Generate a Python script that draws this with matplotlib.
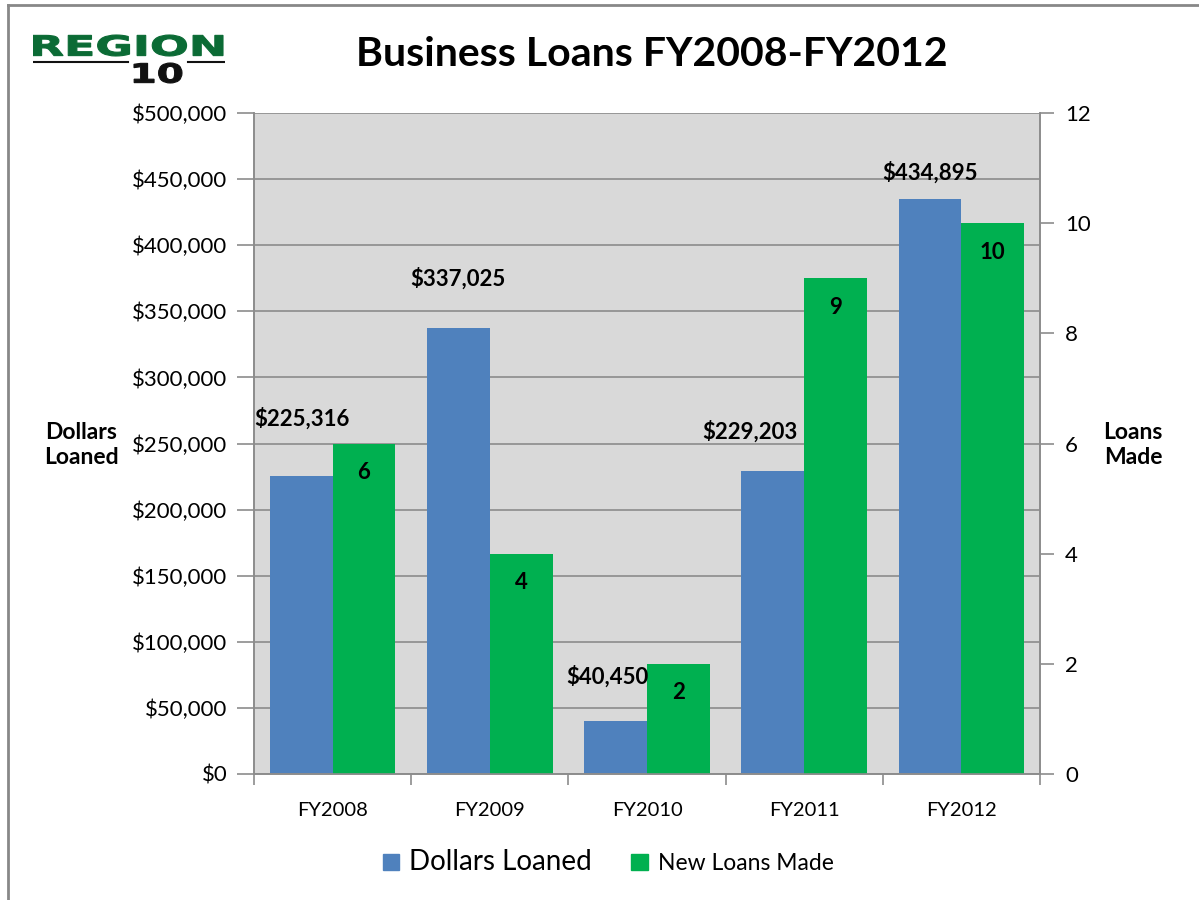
import matplotlib.pyplot as plt
from matplotlib.patches import Patch, PathPatch
from matplotlib.path import Path
from matplotlib.textpath import TextPath
from matplotlib.font_manager import FontProperties
from matplotlib.ticker import FuncFormatter, FixedLocator

years = ["FY2008", "FY2009", "FY2010", "FY2011", "FY2012"]
dollars = [225316, 337025, 40450, 229203, 434895]
loans = [6, 4, 2, 9, 10]

# label nudges (pixels) so the dollar labels sit like the original
lab_dx = [1, 0, -8, -23, 0]
lab_dy = [58, 50, 44, 39, 27]

plt.rcParams['font.family'] = ['Lato', 'DejaVu Sans']

blue = "#4f81bd"
green = "#00b050"
grid_c = "#8c8c8c"

fig = plt.figure(figsize=(11.99, 9), dpi=100)
ax = fig.add_axes([254/1199, 1-774/900, (1040-254)/1199, (774-113)/900])
ax2 = ax.twinx()

x = list(range(len(years)))
ax.bar([i - 0.2 for i in x], dollars, width=0.4, color=blue, zorder=2)
ax2.bar([i + 0.2 for i in x], loans, width=0.4, color=green, zorder=2)

ax.set_facecolor("#d9d9d9")
ax.set_xlim(-0.5, 4.5)
ax.set_ylim(0, 500000)
ax2.set_ylim(0, 12)
ax.set_yticks(range(0, 500001, 50000))
ax2.set_yticks(range(0, 13, 2))
ax.yaxis.set_major_formatter(FuncFormatter(lambda v, p: "${:,.0f}".format(v)))
ax.grid(axis="y", color=grid_c, linewidth=1.2, zorder=1)
ax.set_axisbelow(True)

ax.set_xticks(x)
ax.set_xticklabels(years, fontsize=14.5)
ax.xaxis.set_minor_locator(FixedLocator([i - 0.5 for i in range(len(years) + 1)]))
ax.tick_params(axis="x", which="major", length=0, pad=20)
ax.tick_params(axis="x", which="minor", length=8, color=grid_c, width=1.2)
ax.tick_params(axis="y", length=12, color=grid_c, width=1.2, labelsize=16, pad=7)
ax2.tick_params(axis="y", length=10, color=grid_c, width=1.2, labelsize=16, pad=8)

for a in (ax, ax2):
    a.spines["top"].set_visible(False)
    for s in ("left", "right", "bottom"):
        a.spines[s].set_color(grid_c)
        a.spines[s].set_linewidth(1.2)

for i, v in enumerate(dollars):
    ax2.annotate("${:,}".format(v), xy=(i - 0.2, v / 500000 * 12), xytext=(lab_dx[i], lab_dy[i]),
                 textcoords="offset pixels", ha="center", va="center",
                 fontsize=16, fontweight="bold", zorder=5)
for i, v in enumerate(loans):
    ax2.annotate(str(v), xy=(i + 0.2, v), xytext=(0, -29), textcoords="offset pixels",
                 ha="center", va="center", fontsize=16, fontweight="bold", zorder=5)

fig.text(652/1199, 1-55/900, "Business Loans FY2008-FY2012", ha="center", va="center",
         fontsize=29.5, fontweight="bold")
fig.text(81/1199, 1-445/900, "Dollars\nLoaned", ha="center", va="center",
         fontsize=16.5, fontweight="bold", linespacing=1.25)
fig.text(1133/1199, 1-445/900, "Loans\nMade", ha="center", va="center",
         fontsize=16.5, fontweight="bold", linespacing=1.25)

handles = [Patch(color=blue), Patch(color=green)]
leg = fig.legend(handles, ["Dollars Loaned", "New Loans Made"], loc="center",
                 bbox_to_anchor=(608/1199, 1-862/900), ncol=2, frameon=False, prop={"size": 16},
                 handlelength=0.75, handleheight=0.75, handletextpad=0.45, columnspacing=1.75)
leg.get_texts()[0].set_fontsize(20)
leg.get_texts()[1].set_fontsize(16.5)


def squeeze_text(a, s, x0, y0, w, h, color):
    tp = TextPath((0, 0), s, size=10, prop=FontProperties(family="DejaVu Sans", weight="bold"))
    bb = tp.get_extents()
    v = tp.vertices.copy()
    v[:, 0] = (v[:, 0] - bb.x0) / bb.width * w + x0
    v[:, 1] = (v[:, 1] - bb.y0) / bb.height * h + y0
    a.add_patch(PathPatch(Path(v, tp.codes), color=color, lw=0.8))


# logo
lax = fig.add_axes([33/1199, 1-84/900, (225-33)/1199, (84-33)/900])
lax.set_xlim(0, 192)
lax.set_ylim(0, 51)
lax.axis("off")
squeeze_text(lax, "REGION", 0, 28, 190, 21, "#0b6b35")
squeeze_text(lax, "10", 101, 1, 48, 20, "#111111")
lax.plot([0, 95], [22, 22], color="#111111", lw=1.5)
lax.plot([155, 192], [22, 22], color="#111111", lw=1.5)

# chart border
fig.add_artist(plt.Line2D([8/1199, 8/1199], [0, 1-5/900], color="#888888", lw=2))
fig.add_artist(plt.Line2D([8/1199, 1], [1-5/900, 1-5/900], color="#888888", lw=2))

fig.savefig("out.png", dpi=100)
